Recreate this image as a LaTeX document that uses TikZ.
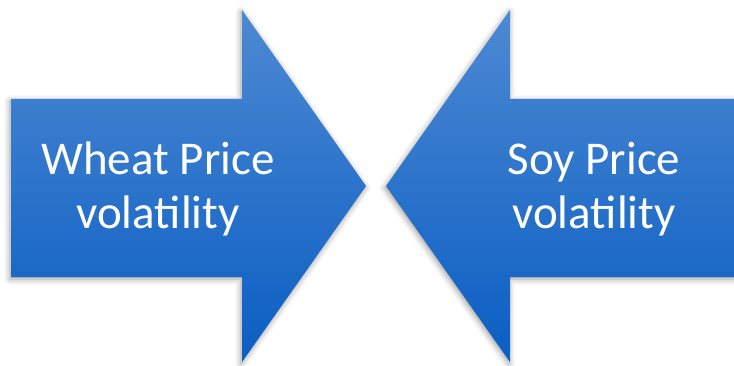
\documentclass[tikz,border=0pt]{standalone}
\usepackage{fontspec}
\setmainfont{Carlito}
\usetikzlibrary{shadows.blur}
\begin{document}
\begin{tikzpicture}[x=1pt,y=1pt,
  blockarrow/.style={top color=arrowtop,bottom color=arrowbottom,draw=none,
    blur shadow={shadow xshift=-1pt,shadow yshift=-2pt,shadow blur radius=6pt,shadow opacity=40}},
  label/.style={text=white,font=\fontsize{47}{54}\selectfont,align=center}]
\definecolor{arrowtop}{HTML}{4D89D3}
\definecolor{arrowbottom}{HTML}{0A5EC3}
\useasboundingbox (0,0) rectangle (734,365);
% left arrow pointing right
\path[blockarrow] (11,266) -- (242,266) -- (242,355) -- (366,179) -- (242,3) -- (242,88) -- (11,88) -- cycle;
% right arrow pointing left
\path[blockarrow] (745,266) -- (510,266) -- (510,355) -- (386,179) -- (510,3) -- (510,88) -- (745,88) -- cycle;
\node[label] (wheat) at (158,176) {Wheat Price\\volatility};
\node[label] (soy) at (594,176) {Soy Price\\volatility};
\end{tikzpicture}
\end{document}
